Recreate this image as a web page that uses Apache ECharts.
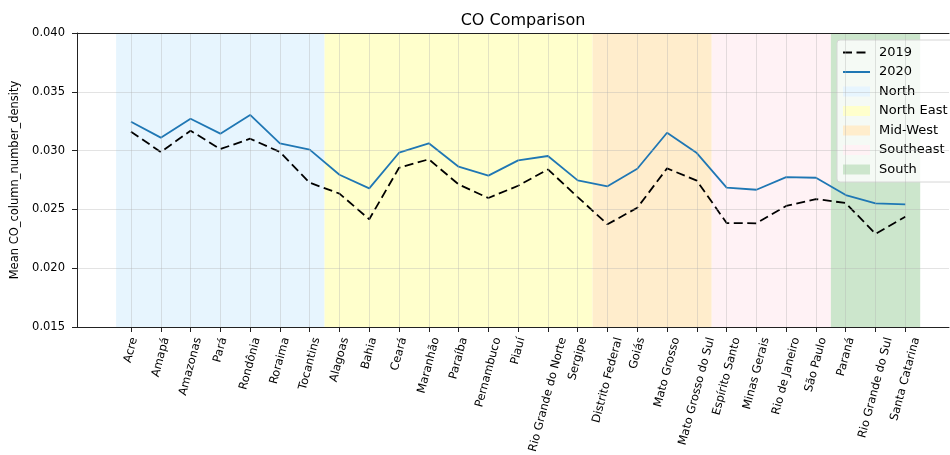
<!DOCTYPE html>
<html>
<head>
<meta charset="utf-8">
<script src="https://cdn.jsdelivr.net/npm/echarts@6/dist/echarts.min.js"></script>
<style>
  html, body { margin: 0; padding: 0; background: #fff; }
  #chart { width: 950px; height: 455px; }
</style>
</head>
<body>
<div id="chart"></div>
<script>
// Brazilian states, ordered by region
const states = [
  'Acre', 'Amapá', 'Amazonas', 'Pará', 'Rondônia', 'Roraima', 'Tocantins',
  'Alagoas', 'Bahia', 'Ceará', 'Maranhão', 'Paraíba', 'Pernambuco', 'Piauí',
  'Rio Grande do Norte', 'Sergipe',
  'Distrito Federal', 'Goiás', 'Mato Grosso', 'Mato Grosso do Sul',
  'Espírito Santo', 'Minas Gerais', 'Rio de Janeiro', 'São Paulo',
  'Paraná', 'Rio Grande do Sul', 'Santa Catarina'
];

// Mean CO column number density per state
const co2019 = [
  0.03161, 0.02988, 0.03169, 0.03013, 0.03101, 0.02988, 0.02727,
  0.02634, 0.02416, 0.02854, 0.02926, 0.02713, 0.02597, 0.02701,
  0.02840, 0.02605,
  0.02373, 0.02514, 0.02849, 0.02744,
  0.02384, 0.02382, 0.02529, 0.02588,
  0.02554, 0.02291, 0.02438
];
const co2020 = [
  0.03246, 0.03110, 0.03271, 0.03144, 0.03303, 0.03062, 0.03008,
  0.02795, 0.02679, 0.02982, 0.03062, 0.02863, 0.02787, 0.02917,
  0.02954, 0.02747,
  0.02696, 0.02846, 0.03152, 0.02979,
  0.02685, 0.02667, 0.02775, 0.02769,
  0.02622, 0.02551, 0.02543
];

// Regions: name, first and last state index
const regionNames = ['North', 'North East', 'Mid-West', 'Southeast', 'South'];
const regionStart = [0, 7, 16, 20, 24];
const regionEnd = [6, 15, 19, 23, 26];
const regionColors = ['#E7F5FE', '#FFFFCC', '#FFEDCC', '#FFF2F5', '#CCE6CC'];

const Y_MIN = 0.015, Y_MAX = 0.040, Y_STEP = 0.005;

const stateIdx = states.map((_, i) => i);
const toPoints = arr => arr.map((v, i) => [i, v]);

const X_MIN = -1.813, X_MAX = 27.467;
const GRID_LINE = 'rgba(176,176,176,0.35)';
const SPINE = '#222';
const TICK_LEN = 5;

// State labels: rotated 75°, with the rotated box centred under each tick
const LABEL_SIZE = 11.5;
const LABEL_FONT = LABEL_SIZE + 'px "DejaVu Sans"';
const LABEL_ROT = 75 * Math.PI / 180;
const measureCtx = document.createElement('canvas').getContext('2d');
measureCtx.font = LABEL_FONT;
const labelWidths = states.map(s => measureCtx.measureText(s).width);
const LABEL_H = LABEL_SIZE * 1.16;

function renderStateLabel(params, api) {
  const i = api.value(0);
  const p = api.coord([i, Y_MIN]);
  const boxH = labelWidths[i] * Math.sin(LABEL_ROT) + LABEL_H * Math.cos(LABEL_ROT);
  return {
    type: 'text',
    x: p[0],
    y: p[1] + TICK_LEN + 4 + boxH / 2,
    rotation: LABEL_ROT,
    silent: true,
    style: {
      text: states[i],
      font: LABEL_FONT,
      fill: '#000',
      align: 'center',
      verticalAlign: 'middle'
    }
  };
}

const regionSeries = regionNames.map((name, r) => ({
  name: name,
  type: 'line',
  data: [],
  z: -1,
  symbol: 'none',
  color: regionColors[r],
  itemStyle: { color: regionColors[r] },
  lineStyle: { color: regionColors[r] },
  silent: true,
  markArea: {
    silent: true,
    itemStyle: { color: regionColors[r], opacity: 1 },
    data: [[{ xAxis: regionStart[r] - 0.5 }, { xAxis: regionEnd[r] + 0.5 }]]
  }
}));

const chart = echarts.init(document.getElementById('chart'), null, { renderer: 'canvas' });

chart.setOption({
  animation: false,
  backgroundColor: '#fff',
  textStyle: { fontFamily: 'DejaVu Sans' },
  title: {
    text: 'CO Comparison',
    left: 518,
    textAlign: 'center',
    top: 8,
    textStyle: { fontFamily: 'DejaVu Sans', fontSize: 16, fontWeight: 'normal', color: '#000' }
  },
  grid: { left: 77, top: 33, right: 1, height: 294 },
  legend: {
    orient: 'vertical',
    left: 837, top: 40,
    padding: [5, 8, 5, 5],
    backgroundColor: 'rgba(255,255,255,0.8)',
    borderColor: '#d6d6d6', borderWidth: 1, borderRadius: 3,
    itemWidth: 27, itemHeight: 10, itemGap: 4.5,
    textStyle: { fontFamily: 'DejaVu Sans', fontSize: 13, lineHeight: 15, color: '#000', padding: [0, 0, 0, 4] },
    data: [
      { name: '2019', itemStyle: { opacity: 0 } },
      { name: '2020', itemStyle: { opacity: 0 } }
    ].concat(regionNames.map(n => ({ name: n, icon: 'rect' })))
  },
  xAxis: [
    {
      type: 'value',
      min: X_MIN, max: X_MAX,
      axisLine: { show: true, onZero: false, lineStyle: { color: SPINE, width: 1 } },
      axisTick: { show: true, customValues: stateIdx, length: TICK_LEN, lineStyle: { color: SPINE } },
      axisLabel: { show: false },
      splitLine: { show: false },
      z: 5
    },
    {
      // top spine of the plot frame
      type: 'value',
      position: 'top',
      min: X_MIN, max: X_MAX,
      axisLine: { show: true, onZero: false, lineStyle: { color: SPINE, width: 1 } },
      axisTick: { show: false },
      axisLabel: { show: false },
      splitLine: { show: false },
      z: 5
    }
  ],
  yAxis: {
    type: 'value',
    min: Y_MIN, max: Y_MAX, interval: Y_STEP,
    name: 'Mean CO_column_number_density',
    nameLocation: 'middle',
    nameGap: 52,
    nameTextStyle: { fontFamily: 'DejaVu Sans', fontSize: 11.5, color: '#000' },
    axisLine: { show: true, onZero: false, lineStyle: { color: SPINE, width: 1 } },
    axisTick: { show: true, length: TICK_LEN, lineStyle: { color: SPINE } },
    axisLabel: {
      formatter: v => v.toFixed(3),
      margin: 12,
      fontFamily: 'DejaVu Sans', fontSize: 11.5, color: '#000'
    },
    splitLine: { show: true, lineStyle: { color: GRID_LINE, width: 1 } },
    z: 5
  },
  series: [
    {
      name: '2019',
      type: 'line',
      data: toPoints(co2019),
      symbol: 'none',
      color: '#000',
      lineStyle: { color: '#000', width: 1.8, type: [9, 4.5] },
      z: 3,
      // vertical grid lines at every state
      markLine: {
        silent: true,
        symbol: 'none',
        label: { show: false },
        lineStyle: { color: GRID_LINE, width: 1, type: 'solid' },
        data: stateIdx.map(i => ({ xAxis: i }))
      }
    },
    {
      name: '2020',
      type: 'line',
      data: toPoints(co2020),
      symbol: 'none',
      color: '#1f77b4',
      lineStyle: { color: '#1f77b4', width: 1.8 },
      z: 4
    },
    {
      name: 'state labels',
      type: 'custom',
      data: stateIdx.map(i => [i, Y_MIN]),
      encode: { x: 0, y: 1 },
      renderItem: renderStateLabel,
      clip: false,
      silent: true,
      z: 6
    }
  ].concat(regionSeries)
});
</script>
</body>
</html>
